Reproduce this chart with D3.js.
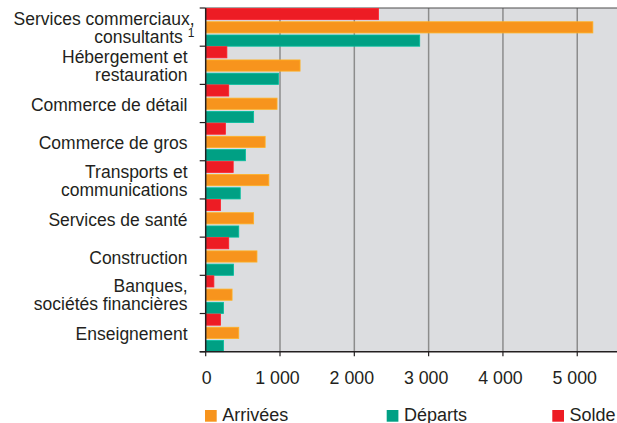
<!DOCTYPE html>
<html>
<head>
<meta charset="utf-8">
<script src="https://cdn.jsdelivr.net/npm/d3@7"></script>
<style>
  body { margin: 0; background: #fff; }
  text { font-family: "Liberation Sans", Arial, sans-serif; fill: #231f20; }
</style>
</head>
<body>
<div id="chart-container"></div>
<script>
// Categories (each entry = label lines), top to bottom
const categories = [
  ["Services commerciaux,", "consultants"],
  ["Hébergement et", "restauration"],
  ["Commerce de détail"],
  ["Commerce de gros"],
  ["Transports et", "communications"],
  ["Services de santé"],
  ["Construction"],
  ["Banques,", "sociétés financières"],
  ["Enseignement"]
];
const footnotes = ["1", "", "", "", "", "", "", "", ""];

// Series values
const arrivees = [5210, 1270, 960, 800, 850, 645, 690, 355, 445];
const departs  = [2880, 980, 645, 535, 465, 445, 375, 240, 240];
const solde    = [2325, 285, 310, 265, 370, 200, 310, 110, 200];

const xTicks = [0, 1000, 2000, 3000, 4000, 5000];

// Series in drawing order inside a band (top to bottom)
const seriesKeys = ["solde", "arrivees", "departs"];
const legendKeys = ["arrivees", "departs", "solde"];
const seriesNames = { arrivees: "Arrivées", departs: "Départs", solde: "Solde" };
const seriesValues = { arrivees, departs, solde };
const colors = { arrivees: "#f7941d", departs: "#00a084", solde: "#ed1c24" };

const W = 617, H = 423;
const plot = { left: 205.7, right: 617, top: 8, bottom: 351.7 };

const svg = d3.select("#chart-container")
  .append("svg")
  .attr("width", W)
  .attr("height", H);

// Scales
const x = d3.scaleLinear().domain([0, 5535]).range([plot.left, plot.right]);
const y = d3.scaleBand().domain(d3.range(categories.length)).range([plot.top, plot.bottom]);
const ySub = d3.scaleBand().domain(seriesKeys).range([0, y.bandwidth()]).paddingInner(0.12).align(0);

// Plot background
svg.append("rect")
  .attr("x", plot.left)
  .attr("y", plot.top)
  .attr("width", plot.right - plot.left)
  .attr("height", plot.bottom - plot.top)
  .attr("fill", "#dcdde0");

// Gridlines
svg.append("g")
  .selectAll("line")
  .data(xTicks.filter(d => d > 0))
  .enter().append("line")
  .attr("x1", d => x(d)).attr("x2", d => x(d))
  .attr("y1", plot.top).attr("y2", plot.bottom)
  .attr("stroke", "#8c8c8c")
  .attr("stroke-width", 1.5);

// Top border
svg.append("line")
  .attr("x1", plot.left).attr("x2", plot.right)
  .attr("y1", plot.top).attr("y2", plot.top)
  .attr("stroke", "#4d4d4d")
  .attr("stroke-width", 1.2);

// Bars
const rows = categories.map((c, i) => ({ i, vals: seriesKeys.map(k => ({ key: k, value: seriesValues[k][i] })) }));

const groups = svg.selectAll(".cat")
  .data(rows)
  .enter().append("g")
  .attr("class", "cat")
  .attr("transform", d => "translate(0," + y(d.i) + ")");

groups.selectAll("rect")
  .data(d => d.vals)
  .enter().append("rect")
  .attr("x", x(0))
  .attr("y", d => ySub(d.key) + 0.5)
  .attr("width", d => x(d.value) - x(0))
  .attr("height", ySub.bandwidth() - 0.5)
  .attr("fill", d => colors[d.key])
  .attr("stroke", d => d3.color(colors[d.key]).brighter(0.5))
  .attr("stroke-width", 0.8);

// Left axis: line + ticks at band boundaries
const leftAxis = svg.append("g");
leftAxis.append("line")
  .attr("x1", plot.left).attr("x2", plot.left)
  .attr("y1", plot.top).attr("y2", plot.bottom)
  .attr("stroke", "#231f20").attr("stroke-width", 1.5);
leftAxis.selectAll(".btick")
  .data(d3.range(categories.length + 1))
  .enter().append("line")
  .attr("class", "btick")
  .attr("x1", plot.left - 6).attr("x2", plot.left)
  .attr("y1", d => plot.top + d * y.step())
  .attr("y2", d => plot.top + d * y.step())
  .attr("stroke", "#231f20").attr("stroke-width", 1.2);

// Category labels
const labelX = 187.5;
categories.forEach((lines, i) => {
  const cy = y(i) + y.bandwidth() / 2;
  const fn = footnotes[i];
  const lx = fn ? labelX + 7 : labelX;
  lines.forEach((line, j) => {
    const base = lines.length === 1 ? cy + 7.5 : cy - 2 + j * 17.8;
    const t = svg.append("text")
      .attr("x", lx)
      .attr("y", base)
      .attr("text-anchor", "end")
      .style("font-size", "17.5px")
      .text(line);
    if (fn && j === lines.length - 1) {
      t.append("tspan")
        .attr("dx", 5)
        .attr("dy", -6)
        .style("font-size", "12px")
        .text(fn);
    }
  });
});

// Bottom axis
const bottomAxis = svg.append("g");
bottomAxis.append("line")
  .attr("x1", plot.left - 6).attr("x2", plot.right)
  .attr("y1", plot.bottom).attr("y2", plot.bottom)
  .attr("stroke", "#231f20").attr("stroke-width", 1.5);
bottomAxis.selectAll(".xtick")
  .data(xTicks)
  .enter().append("line")
  .attr("class", "xtick")
  .attr("x1", d => x(d)).attr("x2", d => x(d))
  .attr("y1", plot.bottom).attr("y2", plot.bottom + 4.5)
  .attr("stroke", "#231f20").attr("stroke-width", 1.2);
bottomAxis.selectAll(".xlabel")
  .data(xTicks)
  .enter().append("text")
  .attr("class", "xlabel")
  .attr("x", d => x(d) - (d > 0 ? 2.5 : -1))
  .attr("y", 384)
  .attr("text-anchor", "middle")
  .style("font-size", "17.8px")
  .text(d => d3.format(",")(d).replace(/,/g, " "));

// Legend
const legendX = [205, 386.7, 552.3];
const legend = svg.selectAll(".legend")
  .data(legendKeys)
  .enter().append("g")
  .attr("class", "legend")
  .attr("transform", (d, i) => "translate(" + legendX[i] + ",410)");
legend.append("rect")
  .attr("width", 11.7).attr("height", 11.7)
  .attr("fill", d => colors[d]);
legend.append("text")
  .attr("x", 17.3)
  .attr("y", 11.2)
  .style("font-size", "18px")
  .text(d => seriesNames[d]);
</script>
</body>
</html>
